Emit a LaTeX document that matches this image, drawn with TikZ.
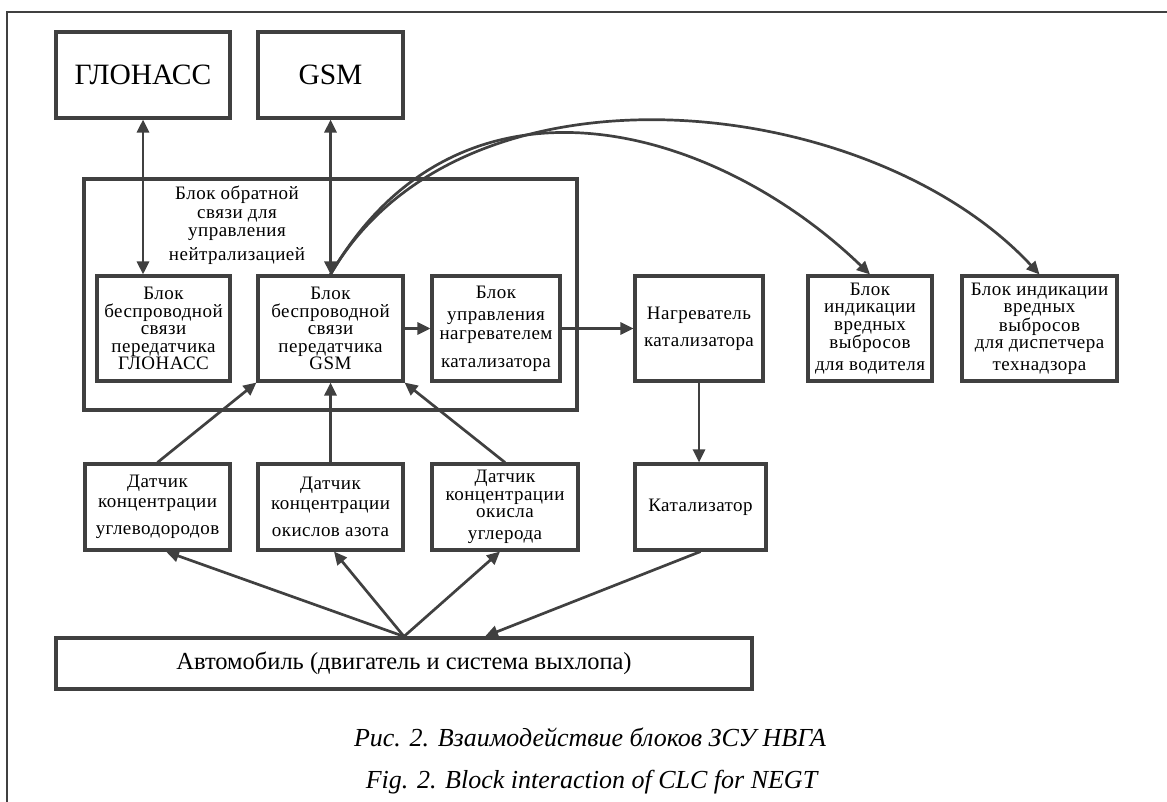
\documentclass[tikz,border=0pt]{standalone}
\usepackage{fontspec}
\setmainfont{Liberation Serif}
\newfontfamily\spacedserif{Liberation Serif}[LetterSpace=2.5]
\usetikzlibrary{arrows.meta}
\definecolor{ink}{HTML}{404040}
\begin{document}
\begin{tikzpicture}[x=1pt,y=-1pt,
  box/.style={draw=ink, line width=3.1pt, inner sep=0pt, align=center,
    font=\spacedserif\fontsize{19}{17.5}\selectfont},
  bigbox/.style={box, font=\fontsize{29.5}{30}\selectfont},
  lbl/.style={inner sep=0pt, align=center, font=\spacedserif\fontsize{19}{18.5}\selectfont},
  conn/.style={draw=ink, line width=2.7pt, -{Triangle[length=13pt,width=12pt]}},
  both/.style={conn, {Triangle[length=13pt,width=12pt]}-{Triangle[length=13pt,width=12pt]}},
  captext/.style={inner sep=0pt, font=\itshape\fontsize{26}{28}\selectfont},
]
\useasboundingbox (0,0) rectangle (1167,802);

% page frame
\draw[ink, line width=1.3pt] (7,802) -- (7,12) -- (1167,12);

% satellite / cellular networks
\node[bigbox, minimum width=174pt, minimum height=86pt] (glo) at (143,75) {ГЛОНАСС};
\node[bigbox, minimum width=145pt, minimum height=86pt] (gsm) at (330.5,75) {GSM};

% feedback control unit with its sub-blocks
\node[box, minimum width=493pt, minimum height=231pt] (cont) at (330.5,294.5) {};
\node[lbl] (contlbl) at (237,225) {Блок обратной\\связи для\\управления\\[5pt]нейтрализацией};

\node[box, minimum width=133pt, minimum height=105pt] (iglo) at (163.5,328.5)
  {Блок\\беспроводной\\связи\\передатчика\\ГЛОНАСС};
\node[box, minimum width=145pt, minimum height=105pt] (igsm) at (330.5,328.5)
  {Блок\\беспроводной\\связи\\передатчика\\GSM};
\node[box, minimum width=128pt, minimum height=105pt] (ctrl) at (496,328.5)
  {Блок\\[4.5pt]управления\\[1.5pt]нагревателем\\[10.5pt]катализатора};

% heater and indicators
\node[box, minimum width=128pt, minimum height=105pt] (heat) at (699,328.5)
  {Нагреватель\\[9.5pt]катализатора};
\node[box, minimum width=124pt, minimum height=105pt] (drv) at (870,328.5)
  {Блок\\индикации\\вредных\\выбросов\\[4pt]для водителя};
\node[box, minimum width=155pt, minimum height=105pt] (disp) at (1039.5,328.5)
  {Блок индикации\\вредных\\выбросов\\для диспетчера\\[4pt]технадзора};

% sensors and catalyst
\node[box, minimum width=145pt, minimum height=86pt] (s1) at (157.5,507)
  {Датчик\\[2.5pt]концентрации\\[9.5pt]углеводородов};
\node[box, minimum width=145pt, minimum height=86pt] (s2) at (330.5,507)
  {Датчик\\[2.5pt]концентрации\\[9.5pt]окислов азота};
\node[box, minimum width=146pt, minimum height=86pt] (s3) at (505,507)
  {Датчик\\концентрации\\окисла\\[4pt]углерода};
\node[box, minimum width=131pt, minimum height=86pt] (cat) at (700.5,507) {Катализатор};

% vehicle
\node[box, minimum width=696pt, minimum height=51pt, font=\fontsize{24.5}{26}\selectfont]
  (car) at (404,663.5) {Автомобиль (двигатель и система выхлопа)};

% connections
\draw[both] (glo.south) -- (glo.south |- iglo.north);
\draw[both] (gsm) -- (igsm);
\draw[conn] (igsm) -- (ctrl);
\draw[conn] (ctrl) -- (heat);
\draw[conn] (heat.south) -- (heat.south |- cat.north);
\draw[conn] (s1.north) -- (igsm.south west);
\draw[conn] (s2) -- (igsm);
\draw[conn] (s3.north) -- (igsm.south east);
\draw[conn] (car.north) -- ([xshift=8.5pt]s1.south);
\draw[conn] (car.north) -- ([xshift=3.5pt]s2.south);
\draw[conn] (car.north) -- ([xshift=-5pt]s3.south);
\draw[conn] (cat.south) -- ([xshift=81pt]car.north);
\draw[conn] (igsm.north) .. controls (461,51) and (715,125) .. (drv.north);
\draw[conn] (igsm.north) .. controls (462,48) and (870,92) .. (disp.north);

% caption
\node[captext] (cap1) at (590,737) {Рис. 2. Взаимодействие блоков ЗСУ НВГА};
\node[captext] (cap2) at (591.5,782) {Fig. 2. Block interaction of CLC for NEGT};
\end{tikzpicture}
\end{document}
